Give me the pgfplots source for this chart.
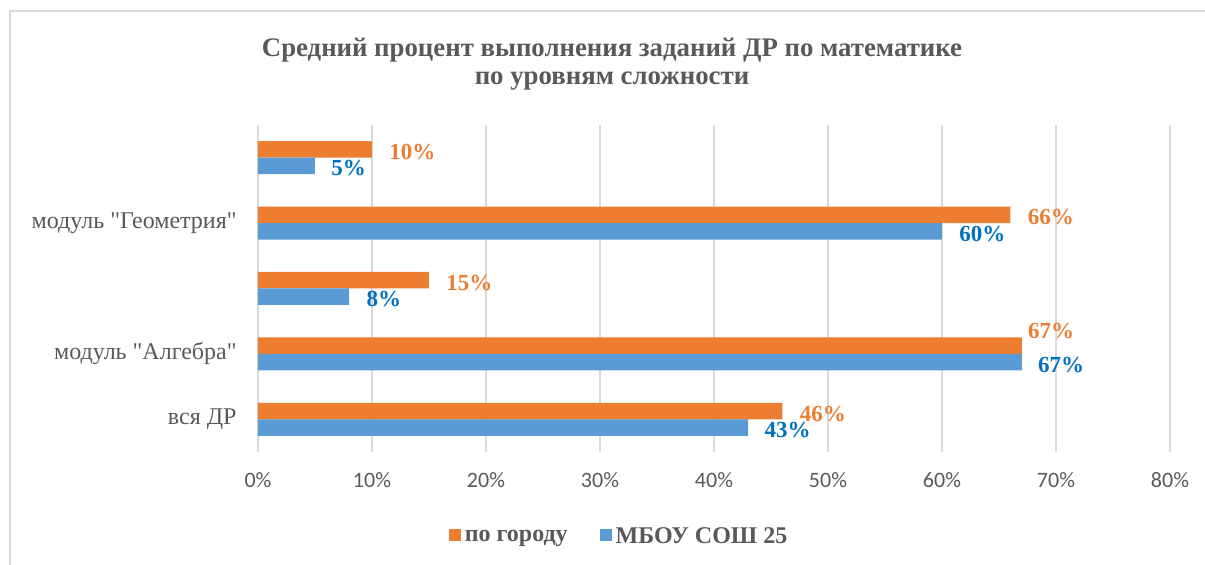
\documentclass[border=0pt]{standalone}
\usepackage{pgfplots}
\pgfplotsset{compat=1.18}
\usepackage{pgfplotstable}
\usepackage{fontspec}
\setmainfont{Liberation Serif}[Ligatures=TeXOff]
\newfontfamily\carlito{Carlito}
\definecolor{txt}{HTML}{595959}
\definecolor{gridc}{HTML}{D9D9D9}
\definecolor{gorod}{HTML}{ED7D31}
\definecolor{school}{HTML}{5B9BD5}
\definecolor{schoollbl}{HTML}{0070C0}

% y  x  label offsets (pt)
\pgfplotstableread{
y x dx dy
0 46 8.5 -1.25
1 67 3.0 7.5
2 15 8.5 -1.25
3 66 8.5 -1.25
4 10 8.5 -1.25
}\gorodtab
\pgfplotstableread{
y x dx dy
0 43 8.0 -1.25
1 67 8.0 -1.25
2 8 8.5 -1.25
3 60 8.5 -1.25
4 5 8.0 -1.25
}\schooltab

\begin{document}
\begin{tikzpicture}
\useasboundingbox (0pt,0pt) rectangle (602.5pt,282.5pt);
\draw[gridc, line width=0.75pt] (5pt,0pt) -- (5pt,277pt) -- (602.5pt,277pt);
\node[font=\bfseries\fontsize{13.4}{15}\selectfont, text=txt] at (306pt,257.5pt)
  {Средний процент выполнения заданий ДР по математике};
\node[font=\bfseries\fontsize{13.4}{15}\selectfont, text=txt] at (306pt,242pt)
  {по уровням сложности};
\begin{axis}[
    at={(129pt,56.5pt)}, anchor=south west,
    scale only axis, width=456pt, height=163.5pt,
    xbar, bar width=8.25pt,
    xmin=0, xmax=80, ymin=-0.5, ymax=4.5,
    axis line style={draw=none}, major tick length=0pt,
    xmajorgrids, grid style={gridc, line width=0.75pt},
    /pgf/number format/assume math mode=true,
    xtick={0,10,...,80},
    xticklabels={0\%,10\%,20\%,30\%,40\%,50\%,60\%,70\%,80\%},
    xticklabel style={font=\carlito\fontsize{11}{13}\selectfont, text=txt,
        anchor=north, inner sep=0pt, yshift=-10pt},
    ytick={0,1,2,3,4},
    yticklabels={вся ДР, модуль "Алгебра", {},
        модуль "Геометрия", {}},
    yticklabel style={font=\fontsize{12}{14}\selectfont, text=txt,
        anchor=east, inner sep=0pt, xshift=-10.5pt},
    legend style={at={(0.397,-0.26)}, anchor=center, draw=none,
        legend columns=2, font=\bfseries\fontsize{12}{14}\selectfont, text=txt,
        /tikz/every even column/.append style={column sep=14pt}},
    legend image code/.code={\fill[#1] (0pt,-2pt) rectangle (6pt,4pt);},
    point meta=x,
    nodes near coords={\pgfmathprintnumber{\pgfplotspointmeta}\%},
    visualization depends on={\thisrow{dx} \as \ldx},
    visualization depends on={\thisrow{dy} \as \ldy},
]
\addplot[fill=gorod, draw=none, bar shift=4.125pt,
    nodes near coords style={font=\bfseries\fontsize{11.5}{13}\selectfont, text=gorod,
        anchor=west, inner sep=0pt, xshift=\ldx pt, yshift=\ldy pt}]
    table[x=x, y=y] {\gorodtab};
\addplot[fill=school, draw=none, bar shift=-4.125pt,
    nodes near coords style={font=\bfseries\fontsize{11.5}{13}\selectfont, text=schoollbl,
        anchor=west, inner sep=0pt, xshift=\ldx pt, yshift=\ldy pt}]
    table[x=x, y=y] {\schooltab};
\legend{по городу, МБОУ СОШ 25}
\end{axis}
\end{tikzpicture}
\end{document}
